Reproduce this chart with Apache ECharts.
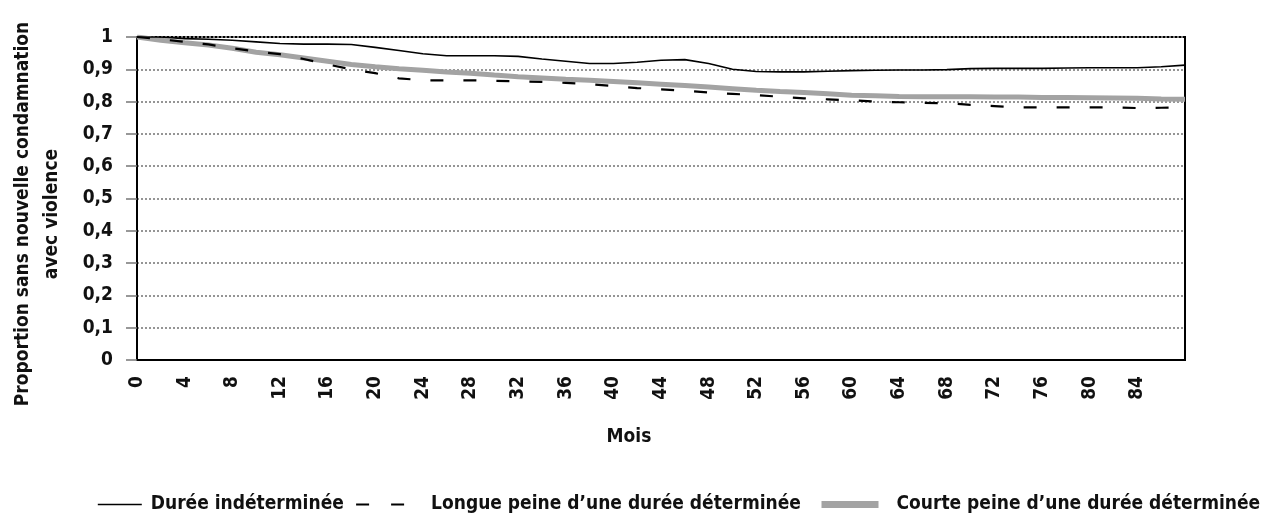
<!DOCTYPE html>
<html>
<head>
<meta charset="utf-8">
<script src="https://cdn.jsdelivr.net/npm/echarts@6/dist/echarts.min.js"></script>
<style>
html,body{margin:0;padding:0;background:#fff;}
#chart{width:1263px;height:519px;}
</style>
</head>
<body>
<div id="chart"></div>
<script>
var months = [0,2,4,6,8,10,12,14,16,18,20,22,24,26,28,30,32,34,36,38,40,42,44,46,48,50,52,54,56,58,60,62,64,66,68,70,72,74,76,78,80,82,84,86,88];
var dureeIndeterminee = [1.0,1.0,0.995,0.993,0.99,0.985,0.98,0.978,0.978,0.977,0.968,0.958,0.948,0.942,0.942,0.942,0.94,0.932,0.925,0.918,0.918,0.922,0.928,0.93,0.918,0.9,0.893,0.892,0.892,0.894,0.896,0.897,0.898,0.898,0.899,0.902,0.903,0.903,0.903,0.904,0.905,0.905,0.905,0.908,0.913];
var longuePeine = [1.0,0.993,0.985,0.977,0.965,0.955,0.947,0.932,0.915,0.9,0.888,0.872,0.866,0.866,0.866,0.864,0.863,0.861,0.858,0.854,0.848,0.842,0.838,0.834,0.828,0.824,0.82,0.815,0.81,0.807,0.804,0.8,0.798,0.796,0.795,0.79,0.786,0.782,0.782,0.782,0.782,0.782,0.78,0.781,0.782];
var courtePeine = [1.0,0.99,0.982,0.975,0.965,0.953,0.945,0.935,0.925,0.915,0.908,0.902,0.897,0.892,0.888,0.882,0.877,0.873,0.869,0.866,0.862,0.858,0.854,0.85,0.845,0.84,0.835,0.831,0.828,0.824,0.82,0.818,0.816,0.815,0.815,0.815,0.814,0.814,0.813,0.813,0.812,0.811,0.81,0.808,0.807];
var seriesNames = ['Durée indéterminée', 'Longue peine d’une durée déterminée', 'Courte peine d’une durée déterminée'];
var yTitle = ['Proportion sans nouvelle condamnation', 'avec violence'];
var xTitle = 'Mois';

function pairs(vals){ return months.map(function(m,i){ return [m, vals[i]]; }); }

var FONT = '"DejaVu Sans Condensed", "Liberation Sans Narrow", sans-serif';
var legendText = {fontFamily: FONT, fontWeight: 'bold', fontSize: 19, color: '#111'};
function legendFor(name, left, w, pad, lineStyle){
  return {
    bottom: 0, left: left, itemWidth: w, itemHeight: 14,
    itemStyle: {opacity: 0},
    textStyle: Object.assign({padding: [0, 0, 0, pad]}, legendText),
    data: [{name: name, lineStyle: lineStyle}]
  };
}
var chart = echarts.init(document.getElementById('chart'), null, {renderer:'canvas'});
chart.setOption({
  animation: false,
  backgroundColor: '#fff',
  textStyle: {fontFamily: FONT, fontWeight: 'bold', color: '#111'},
  grid: {left: 137, right: 78, top: 37, bottom: 159, show: true, borderColor: '#000', borderWidth: 2, backgroundColor: 'transparent'},
  legend: [
    legendFor(seriesNames[0], 92, 44, 4, {width: 1.6}),
    legendFor(seriesNames[1], 350, 55, 15, {width: 2.2, type: [13, 22]}),
    legendFor(seriesNames[2], 813, 57, 13, {width: 7})
  ],
  xAxis: {
    type: 'value', min: 0, max: 88, interval: 4,
    axisLine: {show: true, lineStyle: {color: '#000', width: 2}},
    axisTick: {show: false},
    splitLine: {show: false},
    axisLabel: {rotate: 90, margin: 16, fontSize: 19, fontWeight: 'bold', color: '#111', fontFamily: FONT,
      formatter: function(v){ return v >= 88 ? '' : String(v); }}
  },
  yAxis: {
    type: 'value', min: 0, max: 1, interval: 0.1,
    axisLine: {show: true, lineStyle: {color: '#000', width: 2}},
    axisTick: {show: true, length: 11, lineStyle: {color: '#777', width: 1.5}},
    splitLine: {show: true, lineStyle: {color: '#8a8a8a', width: 1.8, type: [2, 2]}},
    axisLabel: {margin: 24, fontSize: 19, fontWeight: 'bold', color: '#111', fontFamily: FONT,
      formatter: function(v){ return (Math.round(v*10)/10).toString().replace('.', ','); }}
  },
  graphic: [
    {type: 'text', x: 23, y: 214, rotation: Math.PI/2,
      style: {text: yTitle[0], font: 'bold 19px ' + FONT, fill: '#111', textAlign: 'center', textVerticalAlign: 'middle'}},
    {type: 'text', x: 52, y: 214, rotation: Math.PI/2,
      style: {text: yTitle[1], font: 'bold 19px ' + FONT, fill: '#111', textAlign: 'center', textVerticalAlign: 'middle'}},
    {type: 'text', x: 629, y: 437,
      style: {text: xTitle, font: 'bold 19px ' + FONT, fill: '#111', textAlign: 'center', textVerticalAlign: 'middle'}}
  ],
  series: [
    {name: seriesNames[0], type: 'line', data: pairs(dureeIndeterminee), showSymbol: false, symbol: 'none', z: 4,
      lineStyle: {color: '#000', width: 1.6}, itemStyle: {color: '#000'}},
    {name: seriesNames[1], type: 'line', data: pairs(longuePeine), showSymbol: false, symbol: 'none', z: 3,
      lineStyle: {color: '#000', width: 2.2, type: [13, 20]}, itemStyle: {color: '#000'}},
    {name: seriesNames[2], type: 'line', data: pairs(courtePeine), showSymbol: false, symbol: 'none', z: 2,
      lineStyle: {color: '#a3a3a3', width: 5}, itemStyle: {color: '#a3a3a3'}}
  ]
});
</script>
</body>
</html>
